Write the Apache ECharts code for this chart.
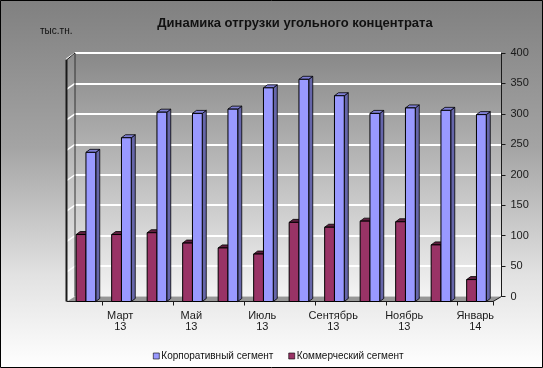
<!DOCTYPE html>
<html>
<head>
<meta charset="utf-8">
<script src="https://cdn.jsdelivr.net/npm/echarts@6/dist/echarts.min.js"></script>
<style>
html,body{margin:0;padding:0;background:#fff;}
#chart{width:543px;height:368px;}
</style>
</head>
<body>
<div id="chart"></div>
<script>
// ---- data ----
const categories = ['Февраль\n13','Март\n13','Апрель\n13','Май\n13','Июнь\n13','Июль\n13','Август\n13','Сентябрь\n13','Октябрь\n13','Ноябрь\n13','Декабрь\n13','Январь\n14'];
const corpValues = [245, 269, 311, 309, 316, 351, 365, 338, 309, 318, 314, 307];
const commValues = [110, 110, 113, 96, 88, 78, 130, 122, 132, 131, 93, 36];
const seriesNames = ['Корпоративный сегмент', 'Коммерческий сегмент'];
const titleText = 'Динамика отгрузки угольного концентрата';
const unitText = 'тыс.тн.';
const yMin = 0, yMax = 400, yStep = 50;

// ---- styling / geometry ----
const FONT = 'Liberation Sans, Arial, sans-serif';
const backL = 75, backR = 501.5, backT = 53, backB = 296.5;
const frontL = 67, frontR = 493, frontB = 301.5;
const pxPerUnitBack = (backB - backT) / (yMax - yMin);
const frontT = frontB - (yMax - yMin) * pxPerUnitBack;

function bar3D(slot, front, side, topc) {
  return function (params, api) {
    const c = api.coord([api.value(0), api.value(1)]);
    const b = api.coord([api.value(0), 0]);
    const band = api.size([1, 0])[0];
    const w = band * 0.276;
    const x0 = c[0] - band * 0.242 + slot * w;
    const yT = c[1], yB = b[1];
    const dx = 4, dy = 3;
    return {
      type: 'group',
      children: [
        {type: 'polygon', shape: {points: [[x0 + w, yT], [x0 + w + dx, yT - dy], [x0 + w + dx, yB - dy], [x0 + w, yB]]},
          style: {fill: side, stroke: '#000', lineWidth: 0.8}},
        {type: 'polygon', shape: {points: [[x0, yT], [x0 + dx, yT - dy], [x0 + w + dx, yT - dy], [x0 + w, yT]]},
          style: {fill: topc, stroke: '#000', lineWidth: 0.8}},
        {type: 'rect', shape: {x: x0, y: yT, width: w, height: yB - yT},
          style: {fill: front, stroke: '#000', lineWidth: 1}}
      ]
    };
  };
}

// decorative 3D walls (left wall, floor, border)
const leftWallGrid = [];
for (let v = yMin + yStep; v <= yMax; v += yStep) {
  const y = backB - (v - yMin) * pxPerUnitBack;
  leftWallGrid.push({type: 'line', z: 2, shape: {x1: 66.5, y1: y + 6, x2: backL, y2: y}, style: {stroke: '#fff', lineWidth: 1.5}});
}

const chart = echarts.init(document.getElementById('chart'), null, {renderer: 'canvas'});
chart.setOption({
  animation: false,
  backgroundColor: {type: 'linear', x: 0, y: 0, x2: 0, y2: 1, colorStops: [
    {offset: 0, color: '#808080'}, {offset: 0.4, color: '#a4a4a4'}, {offset: 0.75, color: '#e2e2e2'}, {offset: 1, color: '#ffffff'}]},
  textStyle: {fontFamily: FONT},
  title: [
    {text: titleText, left: 290, top: 12, textAlign: 'center',
      textStyle: {fontFamily: FONT, fontSize: 13, fontWeight: 'bold', color: '#111'}},
    {text: unitText, left: 35, top: 21,
      textStyle: {fontFamily: FONT, fontSize: 10, fontWeight: 'normal', color: '#111'}}
  ],
  legend: {
    data: [
      {name: seriesNames[0], icon: 'rect', itemStyle: {color: '#9999ff', borderColor: '#000', borderWidth: 0.6}},
      {name: seriesNames[1], icon: 'rect', itemStyle: {color: '#993366', borderColor: '#000', borderWidth: 0.6}}
    ],
    left: 148, top: 346, itemWidth: 6, itemHeight: 6, itemGap: 15,
    textStyle: {fontFamily: FONT, fontSize: 10, color: '#111', padding: [0, 0, 0, -3]}
  },
  grid: [
    {left: backL, right: 543 - backR, top: backT, bottom: 368 - backB, show: true, borderWidth: 0,
      backgroundColor: {type: 'linear', x: 0, y: 0, x2: 0, y2: 1, colorStops: [
        {offset: 0, color: '#888888'}, {offset: 0.5, color: '#bdbdbd'}, {offset: 1, color: '#f4f4f4'}]}},
    {left: frontL, right: 543 - frontR, top: frontT, bottom: 368 - frontB}
  ],
  xAxis: [
    {gridIndex: 0, type: 'category', data: categories, show: false},
    {gridIndex: 1, type: 'category', data: categories, z: 4,
      axisLine: {show: true, lineStyle: {color: '#1a1a1a', width: 1}},
      axisTick: {show: true, length: 4, lineStyle: {color: '#1a1a1a'}},
      axisLabel: {interval: function (i) { return i % 2 === 1; }, fontFamily: FONT, fontSize: 11, lineHeight: 11, color: '#1a1a1a', margin: 9}}
  ],
  yAxis: [
    {gridIndex: 0, type: 'value', position: 'right', min: yMin, max: yMax, interval: yStep,
      axisLine: {show: true, lineStyle: {color: '#1a1a1a', width: 1}},
      axisTick: {show: true, length: 4, lineStyle: {color: '#1a1a1a'}},
      axisLabel: {fontFamily: FONT, fontSize: 11, color: '#1a1a1a', margin: 9},
      splitLine: {show: true, lineStyle: {color: '#ffffff', width: 2}}},
    {gridIndex: 1, type: 'value', min: yMin, max: yMax, interval: yStep, show: false, splitLine: {show: false}}
  ],
  graphic: [
    {type: 'polygon', z: 1, shape: {points: [[66.5, backT + 7], [backL, backT], [backL, backB], [66.5, frontB]]},
      style: {fill: {type: 'linear', x: 0, y: 0, x2: 0, y2: 1, colorStops: [{offset: 0, color: '#8c8c8c'}, {offset: 1, color: '#f8f8f8'}]}}},
    {type: 'polygon', z: 1, shape: {points: [[frontL, frontB], [backL, backB], [backR, backB], [frontR, frontB]]},
      style: {fill: '#979797'}},
    ...leftWallGrid,
    {type: 'line', z: 3, shape: {x1: backL, y1: backT, x2: backL, y2: backB}, style: {stroke: '#333', lineWidth: 1}},
    {type: 'line', z: 3, shape: {x1: 66.5, y1: backT + 7, x2: 66.5, y2: frontB}, style: {stroke: '#1a1a1a', lineWidth: 2}},
    {type: 'line', z: 3, shape: {x1: 66.5, y1: backT + 7, x2: backL, y2: backT}, style: {stroke: '#1a1a1a', lineWidth: 1}},
    {type: 'line', z: 3, shape: {x1: backR, y1: backB, x2: frontR, y2: frontB}, style: {stroke: '#1a1a1a', lineWidth: 1}},
    {type: 'rect', z: 10, shape: {x: 0.5, y: 0.5, width: 542, height: 367}, style: {fill: 'none', stroke: '#000', lineWidth: 1}}
  ],
  series: [
    {name: seriesNames[1], type: 'custom', xAxisIndex: 1, yAxisIndex: 1, z: 5,
      itemStyle: {color: '#993366'},
      renderItem: bar3D(0, '#993366', '#6b2448', '#5e1f3f'),
      encode: {x: 0, y: 1},
      data: commValues.map((v, i) => [i, v])},
    {name: seriesNames[0], type: 'custom', xAxisIndex: 1, yAxisIndex: 1, z: 6,
      itemStyle: {color: '#9999ff'},
      renderItem: bar3D(1, '#9999ff', '#6666aa', '#7f7fd6'),
      encode: {x: 0, y: 1},
      data: corpValues.map((v, i) => [i, v])}
  ]
});
</script>
</body>
</html>
